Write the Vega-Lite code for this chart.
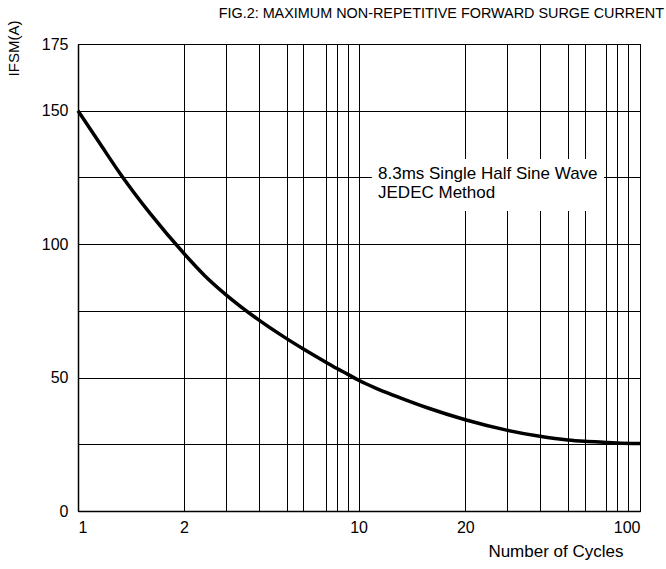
{
  "$schema": "https://vega.github.io/schema/vega-lite/v6.json",
  "width": 562,
  "height": 467,
  "autosize": {"type": "none"},
  "padding": {"left": 78, "top": 44, "right": 26, "bottom": 58},
  "background": "white",
  "title": {
    "text": "FIG.2: MAXIMUM NON-REPETITIVE FORWARD SURGE CURRENT",
    "anchor": "end",
    "frame": "group",
    "dx": 24,
    "dy": 23,
    "offset": 22,
    "font": "Liberation Sans",
    "fontSize": 14.4,
    "fontWeight": "normal",
    "color": "#000"
  },
  "config": {
    "view": {"stroke": "#000", "strokeWidth": 1},
    "font": "Liberation Sans",
    "axis": {
      "grid": true,
      "gridColor": "#000",
      "gridOpacity": 1,
      "gridWidth": 1,
      "ticks": false,
      "domain": true,
      "domainColor": "#000",
      "domainWidth": 1.5,
      "labelFont": "Liberation Sans",
      "labelFontSize": 16,
      "labelColor": "#000",
      "titleFont": "Liberation Sans",
      "titleFontSize": 16,
      "titleFontWeight": "normal",
      "titleColor": "#000"
    }
  },
  "datasets": {
    "curve": [
      {"cycles": 1, "ifsm": 150},
      {"cycles": 1.21, "ifsm": 137.5},
      {"cycles": 1.4, "ifsm": 126.3},
      {"cycles": 1.68, "ifsm": 111.5},
      {"cycles": 2, "ifsm": 96.5},
      {"cycles": 2.5, "ifsm": 88.2},
      {"cycles": 3, "ifsm": 81.2},
      {"cycles": 4, "ifsm": 71.6},
      {"cycles": 5, "ifsm": 64.5},
      {"cycles": 6, "ifsm": 60.8},
      {"cycles": 7, "ifsm": 55.85},
      {"cycles": 8, "ifsm": 53.5},
      {"cycles": 9, "ifsm": 51.3},
      {"cycles": 10, "ifsm": 49},
      {"cycles": 11.82, "ifsm": 45.7},
      {"cycles": 13.9, "ifsm": 42.4},
      {"cycles": 16.5, "ifsm": 38.6},
      {"cycles": 20, "ifsm": 34.2},
      {"cycles": 30, "ifsm": 30.3},
      {"cycles": 40, "ifsm": 28},
      {"cycles": 50, "ifsm": 26.6},
      {"cycles": 60, "ifsm": 26.1},
      {"cycles": 70, "ifsm": 25.7},
      {"cycles": 80, "ifsm": 25.5},
      {"cycles": 100, "ifsm": 25.3}
    ],
    "box": [
      {"x1": 11.24, "x2": 69.06, "y1": 112.4, "y2": 131.9}
    ],
    "notes": [
      {"cycles": 11.82, "ifsm": 126.4, "label": "8.3ms Single Half Sine Wave"},
      {"cycles": 11.82, "ifsm": 119.2, "label": "JEDEC Method"}
    ]
  },
  "encoding": {
    "x": {
      "type": "quantitative",
      "scale": {
        "type": "linear",
        "domain": [1, 2, 3, 4, 5, 6, 7, 8, 9, 10, 20, 30, 40, 50, 60, 70, 80, 90, 100],
        "range": [0, 106, 147.5, 180.7, 209, 225, 247.5, 258.5, 269.5, 280.6, 387.3, 428.6, 461.7, 489.8, 506.8, 528, 539, 550, 562],
        "zero": false,
        "nice": false
      },
      "axis": {
        "title": "Number of Cycles",
        "values": [1, 2, 3, 4, 5, 6, 7, 8, 9, 10, 20, 30, 40, 50, 60, 70, 80, 90, 100],
        "labelExpr": "indexof([1,2,10,20,100], datum.value) >= 0 ? datum.label : ''",
        "labelPadding": 8,
        "labelFlush": true,
        "labelFlushOffset": 0,
        "labelOverlap": false,
        "titleX": 545,
        "titleY": 40,
        "titleFontSize": 17,
        "titleAlign": "right",
        "titleBaseline": "middle",
        "titleAnchor": null
      }
    },
    "y": {
      "type": "quantitative",
      "scale": {"domain": [0, 175], "nice": false, "zero": true},
      "axis": {
        "title": "IFSM(A)",
        "values": [0, 25, 50, 75, 100, 125, 150, 175],
        "labelExpr": "indexof([0,50,100,150,175], datum.value) >= 0 ? datum.label : ''",
        "labelPadding": 10,
        "labelOverlap": false,
        "labelFlush": false,
        "titleX": -65,
        "titleY": 4,
        "titleFontSize": 15,
        "titleAngle": -90,
        "titleAlign": "center",
        "titleBaseline": "middle",
        "titleAnchor": null
      }
    }
  },
  "layer": [
    {
      "data": {"name": "curve"},
      "mark": {"type": "line", "color": "#000", "strokeWidth": 3.5, "interpolate": "monotone"},
      "encoding": {
        "x": {"field": "cycles"},
        "y": {"field": "ifsm"}
      }
    },
    {
      "data": {"name": "box"},
      "mark": {"type": "rect", "fill": "white", "stroke": null},
      "encoding": {
        "x": {"field": "x1"},
        "x2": {"field": "x2"},
        "y": {"field": "y1"},
        "y2": {"field": "y2"}
      }
    },
    {
      "data": {"name": "notes"},
      "mark": {"type": "text", "align": "left", "baseline": "middle", "font": "Liberation Sans", "fontSize": 17, "color": "#000"},
      "encoding": {
        "x": {"field": "cycles"},
        "y": {"field": "ifsm"},
        "text": {"field": "label"}
      }
    }
  ]
}
